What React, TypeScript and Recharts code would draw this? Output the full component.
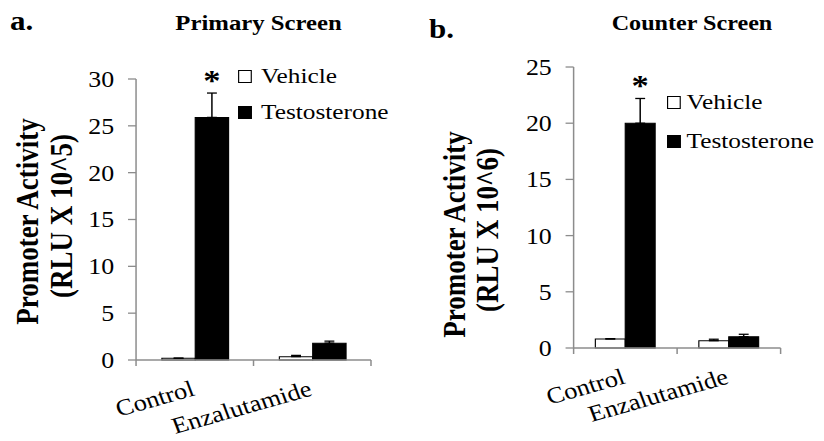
import React from "react";
import {
	Bar,
	BarChart,
	ErrorBar,
	LabelList,
	Legend,
	XAxis,
	YAxis,
} from "recharts";

// values (units: RLU x 10^5 and RLU x 10^6)
const categories = ["Control", "Enzalutamide"];
const significance = ["*", ""];

const primaryVehicle = [0.18, 0.35];
const primaryVehicleErr = [0.02, 0.15];
const primaryTestosterone = [25.9, 1.8];
const primaryTestosteroneErr = [2.6, 0.22];
const primaryTicks = [0, 5, 10, 15, 20, 25, 30];

const counterVehicle = [0.8, 0.65];
const counterVehicleErr = [0.03, 0.13];
const counterTestosterone = [20.0, 1.0];
const counterTestosteroneErr = [2.2, 0.22];
const counterTicks = [0, 5, 10, 15, 20, 25];

const seriesNames = ["Vehicle", "Testosterone"];

// the reference is stretched horizontally, so draw narrower and scale x
const STRETCH = 1.15;
const INNER_W = 824 / STRETCH;
const FONT = '"Liberation Serif", "Times New Roman", serif';
const AXIS = "#8c8c8c";

function buildRows(
	vehicle: number[],
	vehicleErr: number[],
	testo: number[],
	testoErr: number[]
) {
	return categories.map((name, i) => ({
		name,
		vehicle: vehicle[i],
		vehicleErr: [0, vehicleErr[i]],
		testosterone: testo[i],
		testosteroneErr: [0, testoErr[i]],
		sig: significance[i],
	}));
}

const primaryData = buildRows(
	primaryVehicle,
	primaryVehicleErr,
	primaryTestosterone,
	primaryTestosteroneErr
);
const counterData = buildRows(
	counterVehicle,
	counterVehicleErr,
	counterTestosterone,
	counterTestosteroneErr
);

function CategoryTick(props: any) {
	const { x, y, payload, index, visibleTicksCount } = props;
	const half = payload?.offset ?? 0;
	const last = index === (visibleTicksCount ?? categories.length) - 1;
	return (
		<g>
			<line x1={x - half} x2={x - half} y1={y} y2={y + 6} stroke={AXIS} strokeWidth={1.3} />
			{last && (
				<line x1={x + half} x2={x + half} y1={y} y2={y + 6} stroke={AXIS} strokeWidth={1.3} />
			)}
			<text
				transform={`translate(${x + 1}, ${y + 35}) rotate(-18)`}
				textAnchor="end"
				fontSize={23}
				fontFamily={FONT}
				fill="#000"
			>
				{payload.value}
			</text>
		</g>
	);
}

interface PanelProps {
	data: ReturnType<typeof buildRows>;
	ticks: number[];
	left: number;
	width: number;
	margin: { top: number; right: number; bottom: number; left: number };
	gap: string;
	unit: string;
	labelX: [number, number];
	labelY: [number, number];
	legendPos: { left: number; top: number; row: number; gap: number };
	testoErr: number[];
}

function Panel({
	data,
	ticks,
	left,
	width,
	margin,
	gap,
	unit,
	labelX,
	labelY,
	legendPos,
	testoErr,
}: PanelProps) {
	const yLabel = () => (
		<g fontFamily={FONT} fontWeight="bold" fontSize={27} fill="#000">
			<text
				transform={`translate(${labelX[0]}, ${labelY[0]}) rotate(-90)`}
				textAnchor="middle"
			>
				Promoter Activity
			</text>
			<text
				transform={`translate(${labelX[1]}, ${labelY[1]}) rotate(-90)`}
				textAnchor="middle"
			>
				{`(RLU X ${unit})`}
			</text>
		</g>
	);

	const star = (p: any) => {
		const { x, y, width: w, height: h, index, value } = p;
		if (!value) return null;
		const v = data[index].testosterone;
		const errTop = y - (testoErr[index] * h) / v;
		return (
			<text
				x={x + w / 2}
				y={errTop - 3}
				textAnchor="middle"
				fontSize={30}
				fontWeight="bold"
				fontFamily={FONT}
				fill="#000"
			>
				{value}
			</text>
		);
	};

	const legend = () => (
		<div style={{ fontFamily: FONT, fontSize: 22, color: "#000" }}>
			{seriesNames.map((n, i) => (
				<div
					key={n}
					style={{ display: "flex", alignItems: "center", height: legendPos.row }}
				>
					<span
						style={{
							display: "inline-block",
							boxSizing: "border-box",
							width: 12,
							height: 13,
							border: "1px solid #000",
							background: i === 0 ? "#fff" : "#000",
							marginRight: legendPos.gap,
						}}
					/>
					<span>{n}</span>
				</div>
			))}
		</div>
	);

	return (
		<div style={{ position: "absolute", left, top: 0 }}>
			<BarChart
				width={width}
				height={441}
				data={data}
				margin={margin}
				barCategoryGap={gap}
				barGap={0}
			>
				<XAxis
					dataKey="name"
					interval={0}
					height={60}
					tickSize={0}
					tickMargin={0}
					tickLine={false}
					axisLine={{ stroke: AXIS, strokeWidth: 1.3 }}
					tick={<CategoryTick />}
				/>
				<YAxis
					width={50}
					domain={[ticks[0], ticks[ticks.length - 1]]}
					ticks={ticks}
					interval={0}
					tickSize={7}
					tickMargin={12}
					axisLine={{ stroke: AXIS, strokeWidth: 1.3 }}
					tickLine={{ stroke: AXIS, strokeWidth: 1.3 }}
					tick={{ fill: "#000", fontSize: 22.5, fontFamily: FONT }}
					label={{ content: yLabel }}
				/>
				<Legend
					layout="vertical"
					align="center"
					verticalAlign="middle"
					content={legend}
					wrapperStyle={{ left: legendPos.left, top: legendPos.top, width: "auto" }}
				/>
				<Bar
					dataKey="vehicle"
					name="Vehicle"
					fill="#fff"
					stroke="#000"
					strokeWidth={1}
					isAnimationActive={false}
				>
					<ErrorBar dataKey="vehicleErr" width={4.3} stroke="#000" strokeWidth={1.3} direction="y" />
				</Bar>
				<Bar
					dataKey="testosterone"
					name="Testosterone"
					fill="#000"
					stroke="#000"
					strokeWidth={1}
					isAnimationActive={false}
				>
					<ErrorBar dataKey="testosteroneErr" width={4.3} stroke="#000" strokeWidth={1.3} direction="y" />
					<LabelList dataKey="sig" content={star} />
				</Bar>
			</BarChart>
		</div>
	);
}

export default function App() {
	return (
		<div
			style={{
				position: "absolute",
				left: 0,
				top: 0,
				width: INNER_W,
				height: 441,
				transform: `scale(${STRETCH}, 1)`,
				transformOrigin: "0 0",
				background: "#fff",
			}}
		>
			<Panel
				data={primaryData}
				ticks={primaryTicks}
				left={0}
				width={358}
				margin={{ top: 79, right: 35.4, bottom: 21, left: 68.3 }}
				gap="22%"
				unit="10^5"
				labelX={[33, 62.6]}
				labelY={[221.5, 216]}
				legendPos={{ left: 207, top: 58, row: 36, gap: 8 }}
				testoErr={primaryTestosteroneErr}
			/>
			<Panel
				data={counterData}
				ticks={counterTicks}
				left={358.3}
				width={358.2}
				margin={{ top: 67, right: 37.4, bottom: 33, left: 90.8 }}
				gap="21%"
				unit="10^6"
				labelX={[46, 74.8]}
				labelY={[234.5, 230]}
				legendPos={{ left: 221.7, top: 82.5, row: 39, gap: 5 }}
				testoErr={counterTestosteroneErr}
			/>
			<svg
				width={INNER_W}
				height={441}
				style={{ position: "absolute", left: 0, top: 0, pointerEvents: "none" }}
				fontFamily={FONT}
				fontWeight="bold"
			>
				<text x={8.7} y={30} fontSize={27}>a.</text>
				<text x={224.8} y={30} fontSize={21.5} textAnchor="middle">Primary Screen</text>
				<text x={373} y={38} fontSize={27}>b.</text>
				<text x={601.7} y={30} fontSize={21} textAnchor="middle">Counter Screen</text>
			</svg>
		</div>
	);
}
